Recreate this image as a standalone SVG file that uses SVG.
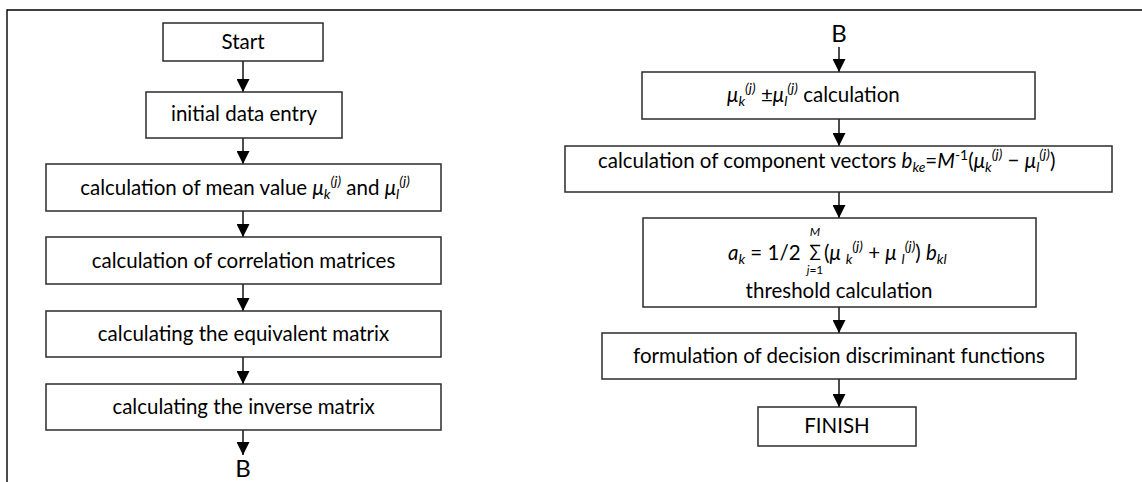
<svg xmlns="http://www.w3.org/2000/svg" width="1142" height="482" viewBox="0 0 1142 482">
<style>
.box{fill:#fff;stroke:#2b2b2b;stroke-width:1.5}
.t{font-family:Lato,"Liberation Sans",sans-serif;font-size:20.5px;fill:#000}
.c{text-anchor:middle}
.i{font-style:italic}
.s{font-size:14px}
.big{font-size:24px}
.ln{stroke:#000;stroke-width:1.4;fill:none}
</style>
<defs>
<marker id="ah" viewBox="0 0 13 13" refX="13" refY="6.5" markerWidth="13" markerHeight="13" markerUnits="userSpaceOnUse" orient="auto">
<path d="M0,0 L13,6.5 L0,13 z" fill="#000"/>
</marker>
</defs>
<path class="ln" d="M7,482 V10 H1142"/>
<g id="connectors">
<line class="ln" x1="243" y1="61" x2="243" y2="92" marker-end="url(#ah)"/>
<line class="ln" x1="243" y1="138" x2="243" y2="164" marker-end="url(#ah)"/>
<line class="ln" x1="243" y1="211" x2="243" y2="237" marker-end="url(#ah)"/>
<line class="ln" x1="243" y1="284" x2="243" y2="311" marker-end="url(#ah)"/>
<line class="ln" x1="243" y1="357" x2="243" y2="384" marker-end="url(#ah)"/>
<line class="ln" x1="243" y1="430" x2="243" y2="455" marker-end="url(#ah)"/>
<line class="ln" x1="839" y1="47" x2="839" y2="72" marker-end="url(#ah)"/>
<line class="ln" x1="839" y1="119" x2="839" y2="146" marker-end="url(#ah)"/>
<line class="ln" x1="839" y1="192" x2="839" y2="218" marker-end="url(#ah)"/>
<line class="ln" x1="839" y1="307" x2="839" y2="333" marker-end="url(#ah)"/>
<line class="ln" x1="839" y1="379" x2="839" y2="407" marker-end="url(#ah)"/>
</g>
<g id="start">
<rect class="box" x="163" y="23" width="160" height="38"/>
<text class="t c" x="243" y="49">Start</text>
</g>
<g id="initial">
<rect class="box" x="146" y="92" width="196" height="46"/>
<text class="t c" x="244" y="121">initial data entry</text>
</g>
<g id="mean">
<rect class="box" x="46" y="164" width="395" height="47"/>
<text class="t c" x="245" y="195">calculation of mean value <tspan class="i">μ</tspan><tspan class="s i" dy="4">k</tspan><tspan class="s i" dy="-13">(j)</tspan><tspan dy="9"> and </tspan><tspan class="i">μ</tspan><tspan class="s i" dy="4">l</tspan><tspan class="s i" dy="-13">(j)</tspan></text>
</g>
<g id="correlation">
<rect class="box" x="46" y="237" width="395" height="47"/>
<text class="t c" x="243.5" y="268">calculation of correlation matrices</text>
</g>
<g id="equivalent">
<rect class="box" x="46" y="311" width="395" height="46"/>
<text class="t c" x="243.5" y="341">calculating the equivalent matrix</text>
</g>
<g id="inverse">
<rect class="box" x="46" y="384" width="395" height="46"/>
<text class="t c" x="243.5" y="414">calculating the inverse matrix</text>
</g>
<g id="connB1">
<text class="t c big" x="243" y="477">B</text>
</g>
<g id="connB2">
<text class="t c big" x="839" y="42">B</text>
</g>
<g id="sum">
<rect class="box" x="642" y="72" width="393" height="47"/>
<text class="t" x="727" y="102"><tspan class="i">μ</tspan><tspan class="s i" dy="4">k</tspan><tspan class="s i" dy="-13">(j)</tspan><tspan dy="9"> ±</tspan><tspan class="i">μ</tspan><tspan class="s i" dy="4">l</tspan><tspan class="s i" dy="-13">(j)</tspan><tspan dy="9"> calculation</tspan></text>
</g>
<g id="component">
<rect class="box" x="565" y="146" width="547" height="46"/>
<text class="t" x="598" y="168">calculation of component vectors <tspan class="i">b</tspan><tspan class="s i" dy="4">ke</tspan><tspan dy="-4">=</tspan><tspan class="i">M</tspan><tspan class="s" dy="-8">-1</tspan><tspan dy="8">(</tspan><tspan class="i">μ</tspan><tspan class="s i" dy="4">k</tspan><tspan class="s i" dy="-13">(j)</tspan><tspan dy="9"> − </tspan><tspan class="i">μ</tspan><tspan class="s i" dy="4">l</tspan><tspan class="s i" dy="-13">(j)</tspan><tspan dy="9">)</tspan></text>
</g>
<g id="threshold">
<rect class="box" x="643" y="218" width="393" height="89"/>
<text class="t" x="728" y="260"><tspan class="i">a</tspan><tspan class="s i" dy="4">k</tspan><tspan dy="-4"> = 1/2</tspan></text>
<text class="t c" x="815" y="236" style="font-size:12px;font-style:italic">M</text>
<text class="t c" x="815" y="257" style="font-size:17px">∑</text>
<text class="t c" x="815" y="274" style="font-size:12px"><tspan class="i">j</tspan>=1</text>
<text class="t" x="824" y="260">(<tspan class="i">μ </tspan><tspan class="s i" dy="4">k</tspan><tspan class="s i" dy="-13">(j)</tspan><tspan dy="9"> + </tspan><tspan class="i">μ </tspan><tspan class="s i" dy="4">l</tspan><tspan class="s i" dy="-13">(j)</tspan><tspan dy="9">) </tspan><tspan class="i">b</tspan><tspan class="s i" dy="4">kl</tspan></text>
<text class="t c" x="839" y="298">threshold calculation</text>
</g>
<g id="formulation">
<rect class="box" x="602" y="333" width="474" height="46"/>
<text class="t c" x="839" y="363">formulation of decision discriminant functions</text>
</g>
<g id="finish">
<rect class="box" x="758" y="407" width="158" height="39"/>
<text class="t c" x="837" y="433">FINISH</text>
</g>
</svg>
